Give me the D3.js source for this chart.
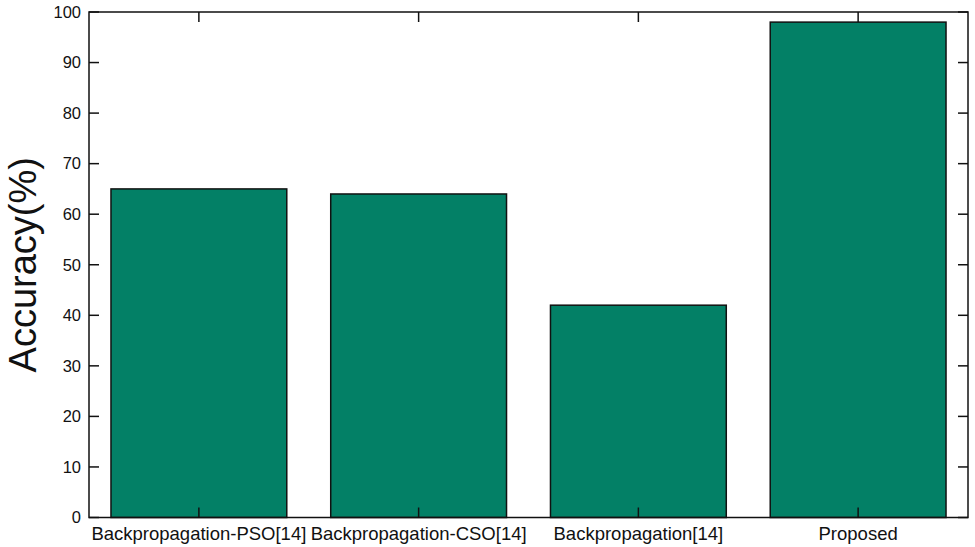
<!DOCTYPE html>
<html><head><meta charset="utf-8">
<script src="https://cdn.jsdelivr.net/npm/d3@7"></script>
<style>body{margin:0;background:#fff}text{font-family:"Liberation Sans",Arial,sans-serif;fill:#111}</style>
</head><body>
<svg id="c" width="975" height="547"></svg>
<script>
const categories = ["Backpropagation-PSO[14]", "Backpropagation-CSO[14]", "Backpropagation[14]", "Proposed"];
const accuracy = [65, 64, 42, 98];
const yTicks = [0,10,20,30,40,50,60,70,80,90,100];

const svg = d3.select("#c");
const m = {left:89, right:7, top:12, bottom:29.5};
const W = 975, H = 547;
const x = d3.scaleBand().domain(categories).range([m.left, W - m.right]).paddingInner(0.2).paddingOuter(0.1);
const y = d3.scaleLinear().domain([0,100]).range([H - m.bottom, m.top]);

svg.append("g").selectAll("rect").data(categories).join("rect")
  .attr("x", d => x(d)).attr("width", x.bandwidth())
  .attr("y", (d,i) => y(accuracy[i])).attr("height", (d,i) => y(0) - y(accuracy[i]))
  .attr("fill", "#038066").attr("stroke", "#111").attr("stroke-width", 1.5);

const tick = 10;
const ax = svg.append("g").attr("stroke", "#111").attr("stroke-width", 1.5);
ax.append("rect").attr("x", m.left).attr("y", m.top).attr("width", W - m.right - m.left).attr("height", y(0) - m.top).attr("fill", "none");
yTicks.forEach(t => {
  ax.append("line").attr("x1", m.left).attr("x2", m.left + tick).attr("y1", y(t)).attr("y2", y(t));
  ax.append("line").attr("x1", W - m.right).attr("x2", W - m.right - tick).attr("y1", y(t)).attr("y2", y(t));
});
categories.forEach(c => {
  const cx = x(c) + x.bandwidth()/2;
  ax.append("line").attr("x1", cx).attr("x2", cx).attr("y1", m.top).attr("y2", m.top + tick);
  ax.append("line").attr("x1", cx).attr("x2", cx).attr("y1", y(0)).attr("y2", y(0) - tick);
});

svg.append("g").selectAll("text").data(yTicks).join("text")
  .attr("x", m.left - 8).attr("y", d => y(d)).attr("dy", "0.35em")
  .attr("text-anchor", "end").attr("font-size", 16.5).text(d => d);

svg.append("g").selectAll("text").data(categories).join("text")
  .attr("x", d => x(d) + x.bandwidth()/2).attr("y", y(0) + 22)
  .attr("text-anchor", "middle").attr("font-size", 18.5).text(d => d);

svg.append("text").attr("transform", `translate(36,${(m.top + y(0))/2}) rotate(-90)`)
  .attr("text-anchor", "middle").attr("font-size", 38).text("Accuracy(%)");
</script>
</body></html>
